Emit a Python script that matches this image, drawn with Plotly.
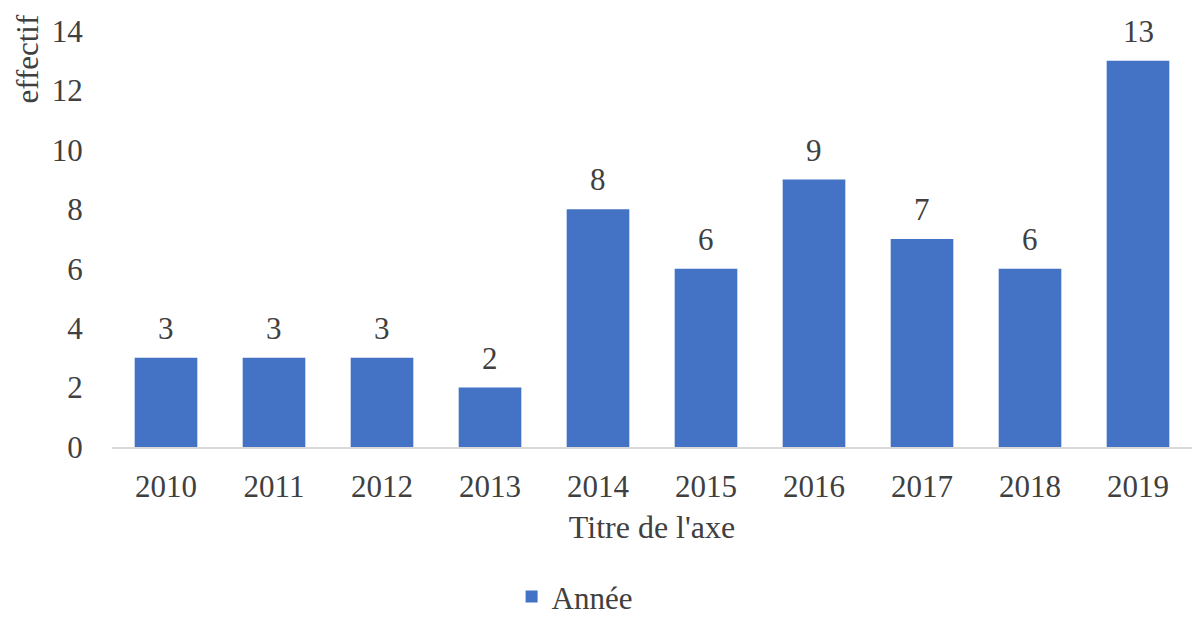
import plotly.graph_objects as go

years = ["2010", "2011", "2012", "2013", "2014", "2015", "2016", "2017", "2018", "2019"]
counts = [3, 3, 3, 2, 8, 6, 9, 7, 6, 13]
series_name = "Année"
x_title = "Titre de l'axe"
y_title = "effectif"

FONT = "Liberation Serif, Times New Roman, serif"
TXT = "#404040"
FS = 31

fig = go.Figure()
fig.add_trace(go.Bar(
    x=years, y=counts, name=series_name,
    marker=dict(color="#4472C4", line=dict(width=0)),
    showlegend=True,
))

# category axis: annotation x uses the category index
annos = [dict(x=i, y=v, xref="x", yref="y", text=str(v), showarrow=False,
              yanchor="bottom", yshift=10, font=dict(family=FONT, size=FS, color=TXT))
         for i, v in enumerate(counts)]
annos.append(dict(text=y_title, textangle=-90, xref="paper", yref="paper",
                  x=-0.078, y=1.046, xanchor="center", yanchor="top",
                  showarrow=False, font=dict(family=FONT, size=FS, color=TXT)))

fig.update_layout(
    width=1192, height=619,
    margin=dict(l=112, r=0, t=31, b=172, autoexpand=False),
    paper_bgcolor="white", plot_bgcolor="white",
    bargap=0.42,
    font=dict(family=FONT, size=FS, color=TXT),
    showlegend=True,
    legend=dict(orientation="h", x=0.37, xanchor="left", y=-0.36, yanchor="middle",
                bgcolor="rgba(0,0,0,0)", font=dict(family=FONT, size=FS, color=TXT)),
    xaxis=dict(type="category", range=[-0.5, len(years) - 0.5],
               showgrid=False, showline=True, linecolor="#D9D9D9", linewidth=2,
               ticks="outside", ticklen=11, tickcolor="rgba(0,0,0,0)", automargin=False,
               tickfont=dict(family=FONT, size=FS, color=TXT),
               title=dict(text=x_title, standoff=12, font=dict(family=FONT, size=32, color=TXT))),
    yaxis=dict(range=[0, 14], dtick=2, showgrid=False, zeroline=False, showline=False,
               ticks="outside", ticklen=22, tickcolor="rgba(0,0,0,0)", automargin=False,
               tickfont=dict(family=FONT, size=FS, color=TXT)),
    annotations=annos,
)

fig.write_html("out.html")
